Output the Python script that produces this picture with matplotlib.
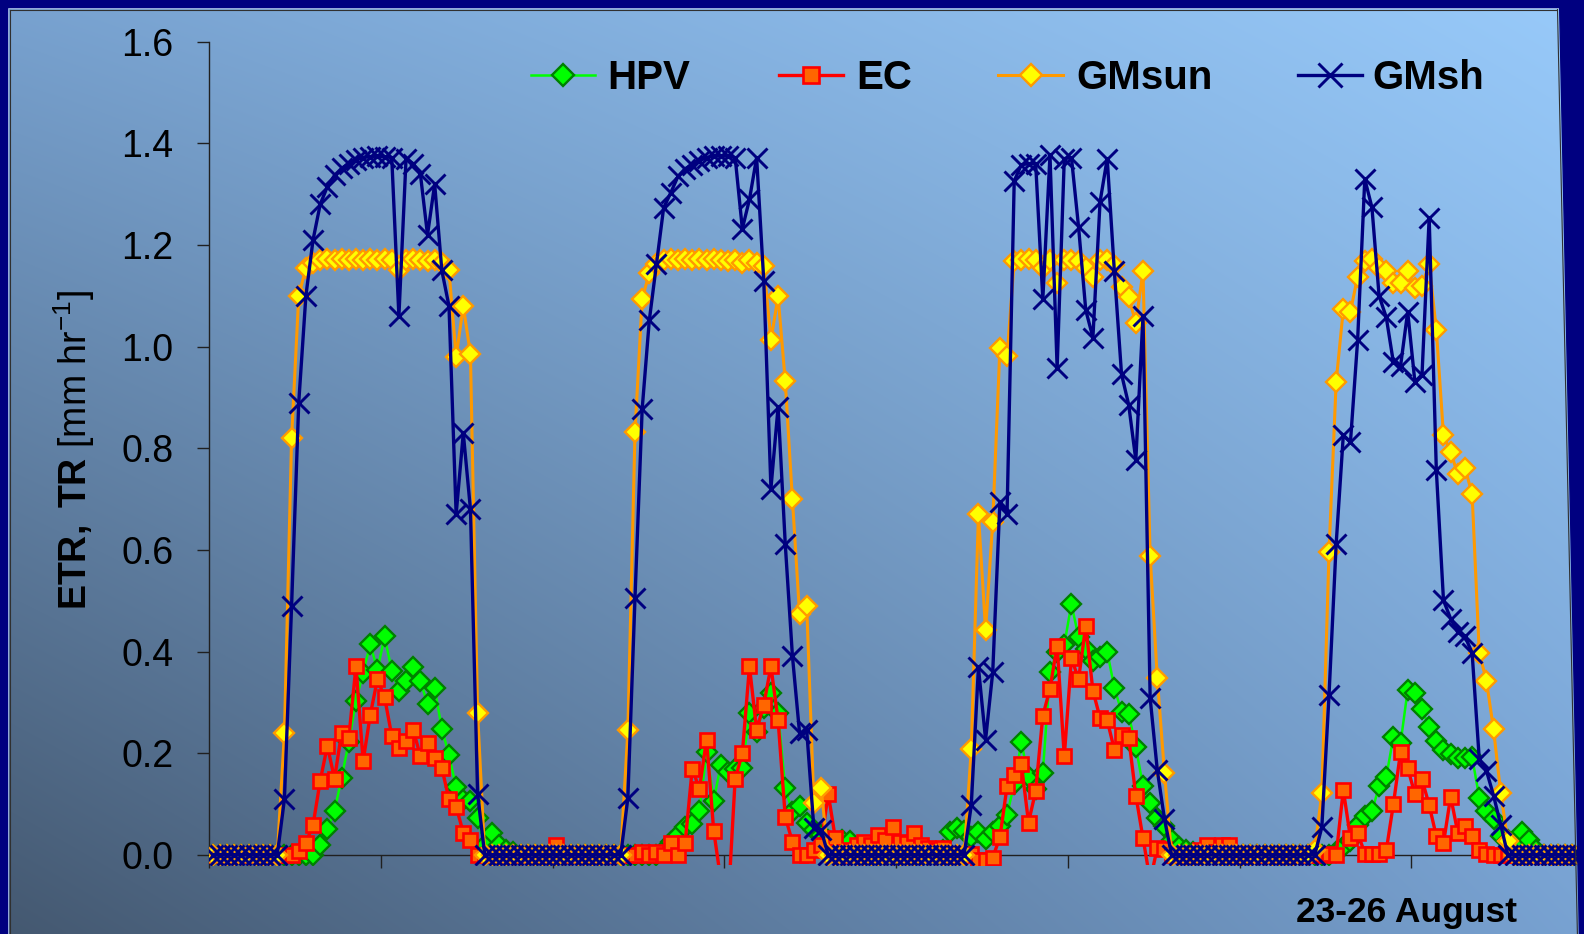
"""
Recreate the ETR / TR diurnal chart (HPV, EC, GMsun, GMsh), 23-26 August.

Half-hourly values, 48 per day, four days.
"""
import numpy as np
import matplotlib
matplotlib.use("Agg")
import matplotlib.pyplot as plt
from matplotlib.lines import Line2D
from matplotlib.patches import Rectangle, Polygon

plt.rcParams["font.family"] = ["Liberation Sans", "DejaVu Sans"]
plt.rcParams["mathtext.fontset"] = "custom"
plt.rcParams["mathtext.rm"] = "Liberation Sans"
plt.rcParams["mathtext.bf"] = "Liberation Sans:bold"
plt.rcParams["mathtext.it"] = "Liberation Sans:italic"

# ---------------------------------------------------------------- data
# HPV sap-flow transpiration [mm/hr]
hpv_day1 = [0] * 14 + [
    0.0, 0.02, 0.051, 0.087, 0.152, 0.223, 0.303, 0.359, 0.415, 0.364,
    0.43, 0.363, 0.323, 0.343, 0.369, 0.343, 0.297, 0.328, 0.248, 0.197,
    0.133, 0.108, 0.106, 0.072, 0.02, 0.043, 0.02, 0.01, 0.005] + [0] * 5
hpv_day2 = [0] * 14 + [
    0.0, 0.01, 0.025, 0.039, 0.056, 0.061, 0.087, 0.203, 0.107, 0.178,
    0.163, 0.17, 0.171, 0.28, 0.243, 0.29, 0.318, 0.28, 0.131, 0.085,
    0.097, 0.063, 0.049, 0.04, 0.03, 0.025, 0.03, 0.028, 0.015, 0.005] + [0] * 4
hpv_day3 = [0] * 6 + [
    0.01, 0.045, 0.053, 0.047, 0.035, 0.046, 0.032, 0.045, 0.057, 0.079,
    0.14, 0.222, 0.153, 0.13, 0.162, 0.36, 0.40, 0.414, 0.494, 0.428,
    0.405, 0.382, 0.39, 0.40, 0.329, 0.282, 0.277, 0.213, 0.135, 0.103,
    0.072, 0.057, 0.03, 0.015, 0.01, 0.005] + [0] * 6
hpv_day4 = [0] * 12 + [
    0.0, 0.005, 0.015, 0.028, 0.059, 0.077, 0.086, 0.135, 0.153, 0.233,
    0.22, 0.325, 0.318, 0.287, 0.251, 0.224, 0.207, 0.198, 0.19, 0.19,
    0.193, 0.113, 0.087, 0.07, 0.037, 0.03, 0.02, 0.046, 0.03, 0.01] + [0] * 6

# Eddy covariance
ec_day1 = [0] * 11 + [
    0.0, 0.008, 0.024, 0.059, 0.146, 0.215, 0.15, 0.241, 0.231, 0.371,
    0.185, 0.276, 0.346, 0.31, 0.235, 0.21, 0.225, 0.246, 0.195, 0.22,
    0.19, 0.171, 0.11, 0.095, 0.044, 0.03] + [0] * 11
ec_day2 = [0.02] + [0] * 10 + [
    0.0, 0.005, 0.0, 0.005, 0.0, 0.023, 0.0, 0.023, 0.17, 0.13,
    0.227, 0.048, -0.05, -0.1, 0.15, 0.20, 0.371, 0.246, 0.296, 0.371,
    0.265, 0.075, 0.026, 0.0, 0.0, 0.01, 0.02, 0.121, 0.033, 0.0,
    0.01, 0.02, 0.026, 0.02, 0.039, 0.03, 0.056]
ec_day3 = [
    0.026, 0.024, 0.044, 0.02, 0.014, 0.01, 0.014, 0.0, 0.0, 0.0,
    0.003, -0.01, -0.01, -0.005, 0.035, 0.135, 0.158, 0.179, 0.064, 0.126,
    0.274, 0.327, 0.412, 0.194, 0.387, 0.346, 0.451, 0.323, 0.27, 0.265,
    0.207, 0.236, 0.231, 0.117, 0.034, -0.05, 0.014, 0.012, 0.0, 0.0,
    0.0, 0.0, 0.01, 0.02, 0.005, 0.02, 0.02, 0.0]
ec_day4 = [0] * 12 + [
    0.003, 0.0, 0.128, 0.033, 0.044, 0.003, 0.003, 0.003, 0.009, 0.1,
    0.203, 0.171, 0.12, 0.149, 0.098, 0.037, 0.023, 0.115, 0.044, 0.057,
    0.037, 0.01, 0.003] + [0] * 13

# Model, sunlit canopy
gmsun_day1 = [0] * 10 + [
    0.24, 0.82, 1.10, 1.155, 1.165, 1.17, 1.172, 1.17, 1.172, 1.17,
    1.172, 1.17, 1.172, 1.17, 1.172, 1.17, 1.15, 1.17, 1.172, 1.17,
    1.168, 1.17, 1.165, 1.15, 0.98, 1.08, 0.985, 0.28] + [0] * 10
gmsun_day2 = [0] * 10 + [
    0.245, 0.832, 1.094, 1.145, 1.163, 1.17, 1.172, 1.17, 1.172, 1.17,
    1.172, 1.17, 1.172, 1.17, 1.168, 1.17, 1.165, 1.17, 1.165, 1.159,
    1.013, 1.099, 0.932, 0.70, 0.474, 0.49, 0.103, 0.132] + [0] * 10
gmsun_day3 = [0] * 10 + [
    0.208, 0.671, 0.442, 0.656, 0.998, 0.981, 1.169, 1.17, 1.172, 1.17,
    1.154, 1.17, 1.125, 1.17, 1.17, 1.168, 1.155, 1.137, 1.17, 1.17,
    1.16, 1.117, 1.097, 1.047, 1.148, 0.589, 0.348, 0.162] + [0] * 10
gmsun_day4 = [0] * 10 + [
    0.01, 0.122, 0.596, 0.931, 1.074, 1.069, 1.138, 1.169, 1.172, 1.154,
    1.149, 1.125, 1.125, 1.149, 1.116, 1.12, 1.163, 1.033, 0.826, 0.792,
    0.75, 0.762, 0.71, 0.398, 0.343, 0.247, 0.122, 0.028] + [0] * 10

# Model, shaded canopy
gmsh_day1 = [0] * 10 + [
    0.11, 0.49, 0.89, 1.10, 1.21, 1.28, 1.315, 1.337, 1.351, 1.36,
    1.368, 1.372, 1.374, 1.375, 1.374, 1.372, 1.06, 1.37, 1.36, 1.34,
    1.22, 1.32, 1.15, 1.08, 0.67, 0.83, 0.68, 0.12] + [0] * 10
gmsh_day2 = [0] * 10 + [
    0.112, 0.506, 0.877, 1.052, 1.163, 1.273, 1.303, 1.335, 1.35, 1.358,
    1.366, 1.372, 1.375, 1.375, 1.375, 1.372, 1.232, 1.29, 1.372, 1.129,
    0.721, 0.882, 0.612, 0.392, 0.24, 0.245, 0.053, 0.05] + [0] * 10
gmsh_day3 = [0] * 10 + [
    0.098, 0.369, 0.227, 0.36, 0.694, 0.671, 1.326, 1.358, 1.36, 1.36,
    1.093, 1.377, 0.958, 1.37, 1.372, 1.235, 1.072, 1.018, 1.285, 1.37,
    1.148, 0.946, 0.886, 0.777, 1.06, 0.309, 0.167, 0.071] + [0] * 10
gmsh_day4 = [0] * 11 + [
    0.055, 0.314, 0.612, 0.826, 0.813, 1.013, 1.33, 1.274, 1.10, 1.058,
    0.969, 0.962, 1.069, 0.931, 0.945, 1.254, 0.757, 0.501, 0.465, 0.438,
    0.43, 0.398, 0.189, 0.166, 0.117, 0.059] + [0] * 11

hpv = hpv_day1 + hpv_day2 + hpv_day3 + hpv_day4
ec = ec_day1 + ec_day2 + ec_day3 + ec_day4
gmsun = gmsun_day1 + gmsun_day2 + gmsun_day3 + gmsun_day4
gmsh = gmsh_day1 + gmsh_day2 + gmsh_day3 + gmsh_day4

series_names = ["HPV", "EC", "GMsun", "GMsh"]
y_ticks = [0.0, 0.2, 0.4, 0.6, 0.8, 1.0, 1.2, 1.4, 1.6]
x_label = "23-26 August"
y_label = r"$\mathbf{ETR,\ TR}$ [mm hr$^{-1}$]"

# ---------------------------------------------------------------- styles
STYLES = {
    "HPV": dict(color="#00FF00", lw=1.8, marker="D", ms=10, mfc="#00FF00",
                mec="#008000", mew=1.7),
    "EC": dict(color="#FF0000", lw=2.4, marker="s", ms=10, mfc="#FF6600",
               mec="#FF0000", mew=1.9),
    "GMsun": dict(color="#FF9900", lw=2.2, marker="D", ms=10, mfc="#FFFF00",
                  mec="#FF9900", mew=1.7),
    "GMsh": dict(color="#000080", lw=2.4, marker="x", ms=14.5, mec="#000080",
                 mew=2.1),
}

W, H = 1584, 934
fig = plt.figure(figsize=(W / 100, H / 100), dpi=100)

# gradient background (dark bottom-left -> light top-right)
bg = fig.add_axes([0, 0, 1, 1], zorder=-10)
u = np.linspace(0, 1, 400)[None, :, None]
v = np.linspace(0, 1, 240)[:, None, None]
TL = np.array([120, 162, 208])
TR = np.array([152, 202, 250])
BL = np.array([68, 88, 112])
BR = np.array([120, 162, 210])
img = (1 - v) * ((1 - u) * TL + u * TR) + v * ((1 - u) * BL + u * BR)
bg.imshow(img / 255.0, aspect="auto", extent=[0, 1, 0, 1],
          interpolation="bilinear")
bg.axis("off")

# main plot area (pixel layout of the reference)
x_left, x_right, y_top, y_bot = 209.3, 1583.0, 41.7, 865.2
ax = fig.add_axes([x_left / W, (H - y_bot) / H,
                   (x_right - x_left) / W, (y_bot - y_top) / H])
ax.patch.set_alpha(0)

x = np.arange(len(gmsh))
data = {"HPV": hpv, "EC": ec, "GMsun": gmsun, "GMsh": gmsh}
for z, name in enumerate(series_names):
    ax.plot(x, data[name], zorder=3 + z, **STYLES[name])

ax.set_xlim(-0.5, len(gmsh) - 0.5)
ax.set_ylim(-0.02, 1.6)
ax.set_xticks(np.arange(-0.5, len(gmsh), 24))
ax.set_yticks(y_ticks)
ax.set_yticklabels([f"{t:.1f}" for t in y_ticks])
ax.tick_params(axis="y", length=9, width=1, direction="out", labelsize=27,
               pad=16.8, color="#202020", labelcolor="black")
ax.tick_params(axis="x", length=9, width=1, direction="out",
               labelbottom=False, color="#202020")
for side in ("top", "right"):
    ax.spines[side].set_visible(False)
ax.spines["left"].set_bounds(0, 1.6)
ax.spines["bottom"].set_position(("data", 0))
for side in ("left", "bottom"):
    ax.spines[side].set_color("#202020")
    ax.spines[side].set_linewidth(1)

# y label and x label
fig.text(74 / W, (H - 450) / H, y_label, rotation=90, fontsize=27,
         ha="center", va="center")
fig.text(1406 / W, (H - 921.7) / H, x_label, fontsize=25.5,
         fontweight="bold", ha="center", va="baseline")

# legend drawn by hand (handle start, handle end, text x) in pixels
legend_pos = {"HPV": (531, 595, 607), "EC": (779, 843, 856),
              "GMsun": (998, 1063, 1076), "GMsh": (1298, 1362, 1372)}
yc = (H - 75) / H
for name in series_names:
    x0, x1, xt = legend_pos[name]
    st = dict(STYLES[name])
    st["ms"] = st["ms"] * 1.15
    fig.add_artist(Line2D([x0 / W, (x0 + x1) / 2 / W, x1 / W], [yc] * 3,
                          transform=fig.transFigure, markevery=[1], **st))
    fig.text(xt / W, (H - 89.3) / H, name, fontsize=29, fontweight="bold",
             ha="left", va="baseline")

# slide frame: navy border with thin inner lines
navy = "#000080"
fig.add_artist(Rectangle((0, 0), 7 / W, 1, transform=fig.transFigure,
                         color=navy, zorder=20))
fig.add_artist(Rectangle((0, (H - 7) / H), 1, 7 / H, transform=fig.transFigure,
                         color=navy, zorder=20))
fig.add_artist(Polygon([(1559.3 / W, 1), (1, 1), (1, 0), (1579.2 / W, 0)],
                       closed=True, transform=fig.transFigure, color=navy,
                       zorder=20))
fig.add_artist(Line2D([7.8 / W, 7.8 / W], [0, (H - 7.8) / H],
                      transform=fig.transFigure, color="#b8d0f0", lw=0.8,
                      zorder=19))
fig.add_artist(Line2D([7.8 / W, 1558 / W], [(H - 7.8) / H, (H - 7.8) / H],
                      transform=fig.transFigure, color="#b8d0f0", lw=0.8,
                      zorder=19))
fig.add_artist(Line2D([10 / W, 10 / W], [0, (H - 9.5) / H],
                      transform=fig.transFigure, color="#303030", lw=0.8,
                      zorder=19))
fig.add_artist(Line2D([10 / W, 1557 / W], [(H - 9.5) / H, (H - 9.5) / H],
                      transform=fig.transFigure, color="#303030", lw=0.8,
                      zorder=19))
fig.add_artist(Line2D([1557.5 / W, 1577.4 / W], [(H - 9.5) / H, 0],
                      transform=fig.transFigure, color="#303030", lw=0.8,
                      zorder=19))

fig.savefig("out.png", dpi=100)
